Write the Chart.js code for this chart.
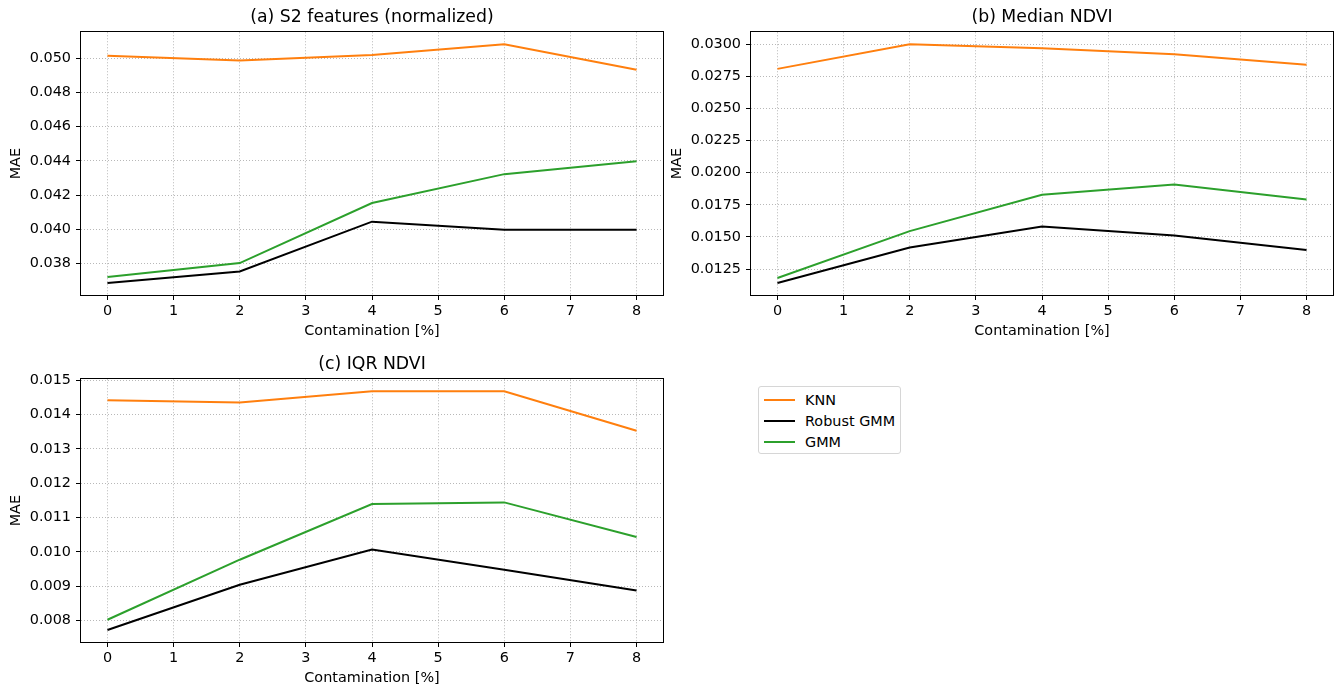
<!DOCTYPE html>
<html><head><meta charset="utf-8">
<script src="https://cdn.jsdelivr.net/npm/chart.js@4.4.0/dist/chart.umd.min.js"></script>
<style>
body{margin:0;background:#fff;width:1335px;height:687px;overflow:hidden;position:relative;font-family:'DejaVu Sans';}
canvas{position:absolute;}
#legend{position:absolute;left:758px;top:386px;width:143px;height:68px;border:1px solid #d6d6d6;border-radius:3px;box-sizing:border-box;font-size:14.4px;color:#000;background:#fff;}
.item{position:absolute;left:5px;height:20px;}
.item span.l{position:absolute;left:0;top:9px;width:31px;height:2px;}
.item span.t{position:absolute;left:41px;top:1px;white-space:nowrap;line-height:18px;}
</style></head>
<body>
<canvas id="ca" width="670" height="340" style="left:0;top:0"></canvas>
<canvas id="cb" width="674" height="340" style="left:661px;top:0"></canvas>
<canvas id="cc" width="670" height="340" style="left:0;top:347px"></canvas>
<div id="legend"></div>
<script>
// ---- data ----
const contamination = [0, 2, 4, 6, 8];
const xTicks = [0, 1, 2, 3, 4, 5, 6, 7, 8];
const seriesNames = ['KNN', 'Robust GMM', 'GMM'];
const seriesColors = ['#ff7f0e', '#000000', '#2ca02c'];

const s2Knn    = [0.05015, 0.04986, 0.05019, 0.05082, 0.04933];
const s2Robust = [0.03685, 0.03753, 0.04044, 0.03997, 0.03997];
const s2Gmm    = [0.03721, 0.03802, 0.04153, 0.04322, 0.04398];
const s2YTicks = [0.038, 0.040, 0.042, 0.044, 0.046, 0.048, 0.050];

const medKnn    = [0.02808, 0.03000, 0.02969, 0.02922, 0.02840];
const medRobust = [0.01141, 0.01418, 0.01581, 0.01512, 0.01398];
const medGmm    = [0.01180, 0.01545, 0.01828, 0.01908, 0.01791];
const medYTicks = [0.0125, 0.0150, 0.0175, 0.0200, 0.0225, 0.0250, 0.0275, 0.0300];

const iqrKnn    = [0.01442, 0.01435, 0.01468, 0.01468, 0.01353];
const iqrRobust = [0.00772, 0.00904, 0.01007, 0.00948, 0.00887];
const iqrGmm    = [0.00802, 0.00977, 0.01139, 0.01144, 0.01043];
const iqrYTicks = [0.008, 0.009, 0.010, 0.011, 0.012, 0.013, 0.014, 0.015];

// ---- drawing ----
Chart.defaults.font.family = "'DejaVu Sans'";
Chart.defaults.color = '#000';

const frame = {
  id: 'frame',
  afterDatasetsDraw(c) {
    const a = c.chartArea, ctx = c.ctx;
    ctx.save();
    ctx.strokeStyle = '#000';
    ctx.lineWidth = 1;
    ctx.strokeRect(Math.round(a.left) - 0.5, Math.round(a.top) - 0.5,
                   Math.round(a.right) - Math.round(a.left) + 1, Math.round(a.bottom) - Math.round(a.top) + 1);
    ctx.restore();
  }
};

function margins(arr) {
  const mn = Math.min(...arr), mx = Math.max(...arr), m = (mx - mn) * 0.05;
  return [mn - m, mx + m];
}

function makeChart(id, title, vals, yTicks, decimals, yWidth, rightPad) {
  const all = [].concat(...vals);
  const [ymin, ymax] = margins(all);
  const [xmin, xmax] = margins(contamination);
  const grid = {color: '#b0b0b0', lineWidth: 0.9, tickColor: '#000', tickBorderDash: [], tickWidth: 1, tickLength: 5};
  const border = {display: false, dash: [1, 2]};
  new Chart(document.getElementById(id), {
    type: 'line',
    data: {
      datasets: vals.map((v, i) => ({
        label: seriesNames[i],
        data: contamination.map((x, j) => ({x: x, y: v[j]})),
        borderColor: seriesColors[i],
        backgroundColor: seriesColors[i],
        borderWidth: 2,
        pointRadius: 0,
        tension: 0
      }))
    },
    options: {
      responsive: false, animation: false, devicePixelRatio: 1,
      layout: {padding: {left: 0, right: rightPad, top: 0, bottom: 0}},
      plugins: {
        legend: {display: false},
        tooltip: {enabled: false},
        title: {display: true, text: title, color: '#000', fullSize: false,
                font: {size: 17.3, weight: 'normal'}, padding: {top: 7.5, bottom: 4}}
      },
      scales: {
        x: {
          type: 'linear', min: xmin, max: xmax,
          afterBuildTicks: s => { s.ticks = xTicks.map(v => ({value: v})); },
          afterFit: s => { s.height = 45; },
          grid: grid, border: border,
          ticks: {font: {size: 14.4}, padding: 3, maxRotation: 0, autoSkip: false},
          title: {display: true, text: 'Contamination [%]', font: {size: 14.4}, padding: {top: 0, bottom: 0}}
        },
        y: {
          type: 'linear', min: ymin, max: ymax,
          afterBuildTicks: s => { s.ticks = yTicks.map(v => ({value: v})); },
          afterFit: s => { s.width = yWidth; },
          grid: grid, border: border,
          ticks: {font: {size: 14.4}, padding: 5, autoSkip: false, callback: v => v.toFixed(decimals)},
          title: {display: true, text: 'MAE', font: {size: 14.4}, padding: {top: 7.4, bottom: 0}}
        }
      }
    },
    plugins: [frame]
  });
}

makeChart('ca', '(a) S2 features (normalized)', [s2Knn, s2Robust, s2Gmm], s2YTicks, 3, 81, 7);
makeChart('cb', '(b) Median NDVI', [medKnn, medRobust, medGmm], medYTicks, 4, 90, 2);
makeChart('cc', '(c) IQR NDVI', [iqrKnn, iqrRobust, iqrGmm], iqrYTicks, 3, 81, 7);

const lg = document.getElementById('legend');
seriesNames.forEach((n, i) => {
  const d = document.createElement('div');
  d.className = 'item';
  d.style.top = (3 + i * 21) + 'px';
  d.innerHTML = '<span class="l" style="background:' + seriesColors[i] + '"></span><span class="t">' + n + '</span>';
  lg.appendChild(d);
});
</script>
</body></html>
